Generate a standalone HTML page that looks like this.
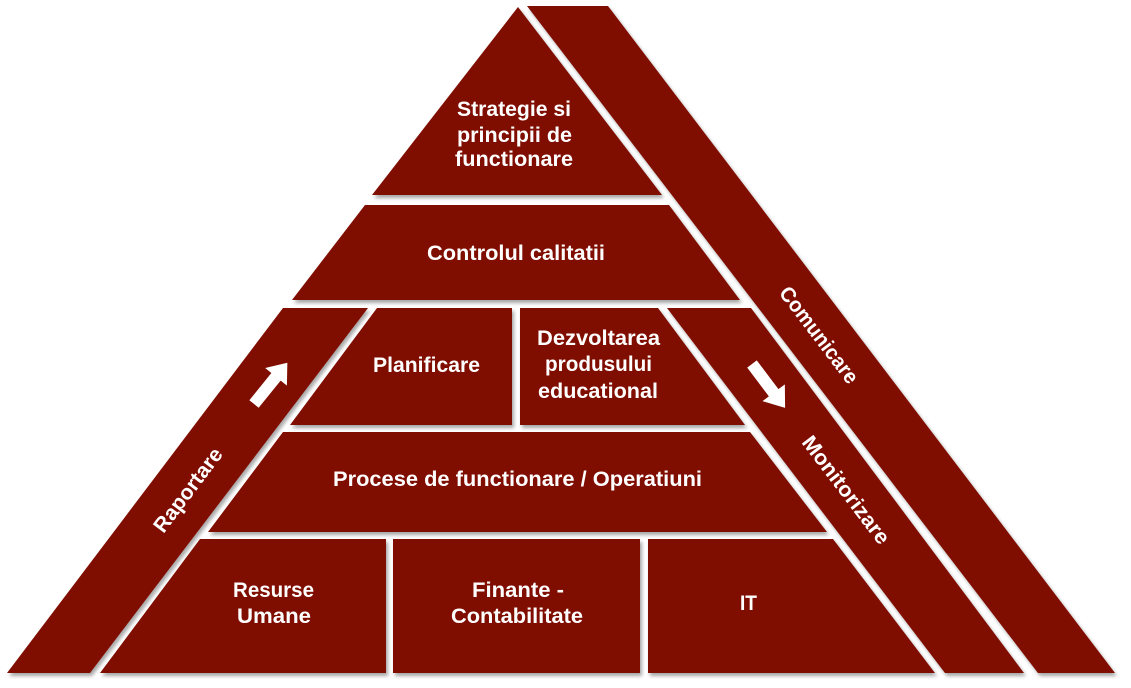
<!DOCTYPE html>
<html>
<head>
<meta charset="utf-8">
<style>
  html, body { margin: 0; padding: 0; background: #ffffff; }
  body { width: 1131px; height: 688px; overflow: hidden; }
  svg { display: block; }
  text { font-family: "Liberation Sans", "DejaVu Sans", sans-serif; font-weight: bold; fill: #ffffff; font-size: 21px; }
</style>
</head>
<body>
<svg width="1131" height="688" viewBox="0 0 1131 688" xmlns="http://www.w3.org/2000/svg">
  <defs>
    <filter id="sh" x="-10%" y="-10%" width="120%" height="120%">
      <feDropShadow dx="2" dy="3" stdDeviation="1.8" flood-color="#000000" flood-opacity="0.35"/>
    </filter>
  </defs>
  <g fill="#7f0c03" filter="url(#sh)">
    <!-- top triangle -->
    <polygon points="518,7 662,195 372,195"/>
    <!-- Comunicare band -->
    <polygon points="527,6 608,6 1115,673 1038,673"/>
    <!-- Controlul calitatii -->
    <polygon points="365,205 669,205 740,300 292,300"/>
    <!-- Raportare band -->
    <polygon points="283,308 368,308 90,673 7,673"/>
    <!-- Planificare -->
    <polygon points="377,308 512,308 512,425 290,425"/>
    <!-- Dezvoltarea -->
    <polygon points="520,308 658,308 745,425 520,425"/>
    <!-- Monitorizare band -->
    <polygon points="667,308 751,308 1024,673 945,673"/>
    <!-- Procese -->
    <polygon points="283,432 750,432 827,532 208,532"/>
    <!-- Resurse Umane -->
    <polygon points="200,539 386,539 386,673 100,673"/>
    <!-- Finante -->
    <polygon points="393,539 640,539 640,673 393,673"/>
    <!-- IT -->
    <polygon points="648,539 833,539 935,673 648,673"/>
  </g>

  <!-- arrows -->
  <polygon fill="#ffffff" points="0,-6 35,-6 35,-14 53,0 35,14 35,6 0,6" transform="translate(254,404) rotate(-51)"/>
  <polygon fill="#ffffff" points="0,-6 36,-6 36,-14 55,0 36,14 36,6 0,6" transform="translate(752,364) rotate(53)"/>

  <!-- labels -->
  <text x="514" y="116" text-anchor="middle" textLength="114" lengthAdjust="spacingAndGlyphs">Strategie si</text>
  <text x="514.5" y="142" text-anchor="middle" textLength="115" lengthAdjust="spacingAndGlyphs">principii de</text>
  <text x="514" y="166" text-anchor="middle" textLength="118" lengthAdjust="spacingAndGlyphs">functionare</text>

  <text x="516" y="260" text-anchor="middle" textLength="178" lengthAdjust="spacingAndGlyphs">Controlul calitatii</text>

  <text x="426.5" y="372" text-anchor="middle" textLength="107" lengthAdjust="spacingAndGlyphs">Planificare</text>

  <text x="598.5" y="345" text-anchor="middle" textLength="123" lengthAdjust="spacingAndGlyphs">Dezvoltarea</text>
  <text x="598.5" y="371" text-anchor="middle" textLength="107" lengthAdjust="spacingAndGlyphs">produsului</text>
  <text x="598" y="398" text-anchor="middle" textLength="120" lengthAdjust="spacingAndGlyphs">educational</text>

  <text x="517.5" y="486" text-anchor="middle" textLength="369" lengthAdjust="spacingAndGlyphs">Procese de functionare / Operatiuni</text>

  <text x="273.5" y="597" text-anchor="middle" textLength="81" lengthAdjust="spacingAndGlyphs">Resurse</text>
  <text x="274" y="623" text-anchor="middle" textLength="74" lengthAdjust="spacingAndGlyphs">Umane</text>

  <text x="518" y="597" text-anchor="middle" textLength="92" lengthAdjust="spacingAndGlyphs">Finante -</text>
  <text x="517" y="623" text-anchor="middle" textLength="132" lengthAdjust="spacingAndGlyphs">Contabilitate</text>

  <text x="748.5" y="610" text-anchor="middle" textLength="17" lengthAdjust="spacingAndGlyphs">IT</text>

  <!-- rotated band labels -->
  <text x="0" y="7" text-anchor="middle" textLength="100" lengthAdjust="spacingAndGlyphs" transform="translate(188,490) rotate(-53)">Raportare</text>
  <text x="0" y="7" text-anchor="middle" textLength="116" lengthAdjust="spacingAndGlyphs" transform="translate(819,335) rotate(52.7)">Comunicare</text>
  <text x="0" y="7" text-anchor="middle" textLength="130" lengthAdjust="spacingAndGlyphs" transform="translate(846,490) rotate(52.7)">Monitorizare</text>
</svg>
</body>
</html>
